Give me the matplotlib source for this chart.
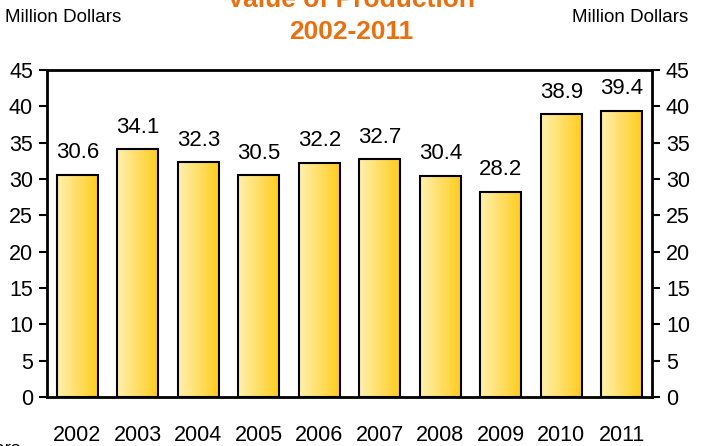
import numpy as np
import matplotlib.pyplot as plt
from matplotlib.colors import LinearSegmentedColormap

plt.rcParams['font.family'] = ['Liberation Sans', 'DejaVu Sans']

# data
years = ["2002", "2003", "2004", "2005", "2006", "2007", "2008", "2009", "2010", "2011"]
values = [30.6, 34.1, 32.3, 30.5, 32.2, 32.7, 30.4, 28.2, 38.9, 39.4]
yticks = [0, 5, 10, 15, 20, 25, 30, 35, 40, 45]

fig = plt.figure(figsize=(7.01, 4.46), dpi=100)
ax = fig.add_axes([47 / 701, 1 - 397 / 446, 605 / 701, 327 / 446])

x = np.arange(len(years))
bars = ax.bar(x, values, width=0.68, color='none', edgecolor='black', linewidth=1.5, zorder=3)

# gradient fill, light yellow on the left to gold on the right
cmap = LinearSegmentedColormap.from_list("gold", ["#FFF0B0", "#FFCC1A"])
grad = np.linspace(0, 1, 256).reshape(1, -1)
for b in bars:
    bx, by = b.get_x(), b.get_y()
    w, h = b.get_width(), b.get_height()
    im = ax.imshow(grad, cmap=cmap, extent=[bx, bx + w, by, by + h],
                   aspect='auto', zorder=2)
    im.set_clip_path(b)

for xi, v in zip(x, values):
    ax.text(xi, v + 1.6, f"{v:.1f}", ha='center', va='bottom', fontsize=16)

ax.set_xlim(-0.5, len(years) - 0.5)
ax.set_ylim(0, 45)
ax.set_yticks(yticks)
ax.set_xticks(x)
ax.set_xticklabels(years)
ax.tick_params(axis='x', length=0, pad=20, labelsize=15.5)
ax.tick_params(axis='y', direction='out', length=6, width=1.5, labelsize=15.5,
               left=True, right=True, labelleft=True, labelright=True, pad=4)
for s in ax.spines.values():
    s.set_linewidth(2)

fig.text(5 / 701, 1 - 17 / 446, "Million Dollars", fontsize=13.5, va='center', ha='left')
fig.text(688 / 701, 1 - 17 / 446, "Million Dollars", fontsize=13.5, va='center', ha='right')
fig.text(351 / 701, 1 - 0 / 446, "Value of Production", fontsize=19, fontweight='bold',
         color='#E8700F', ha='center', va='center')
fig.text(351 / 701, 1 - 32 / 446, "2002-2011", fontsize=19, fontweight='bold',
         color='#E8700F', ha='center', va='center')
fig.text(20 / 701, 1 - 450 / 446, "Million Dollars", fontsize=13.5, ha='right', va='center')

fig.savefig("out.png", dpi=100)
